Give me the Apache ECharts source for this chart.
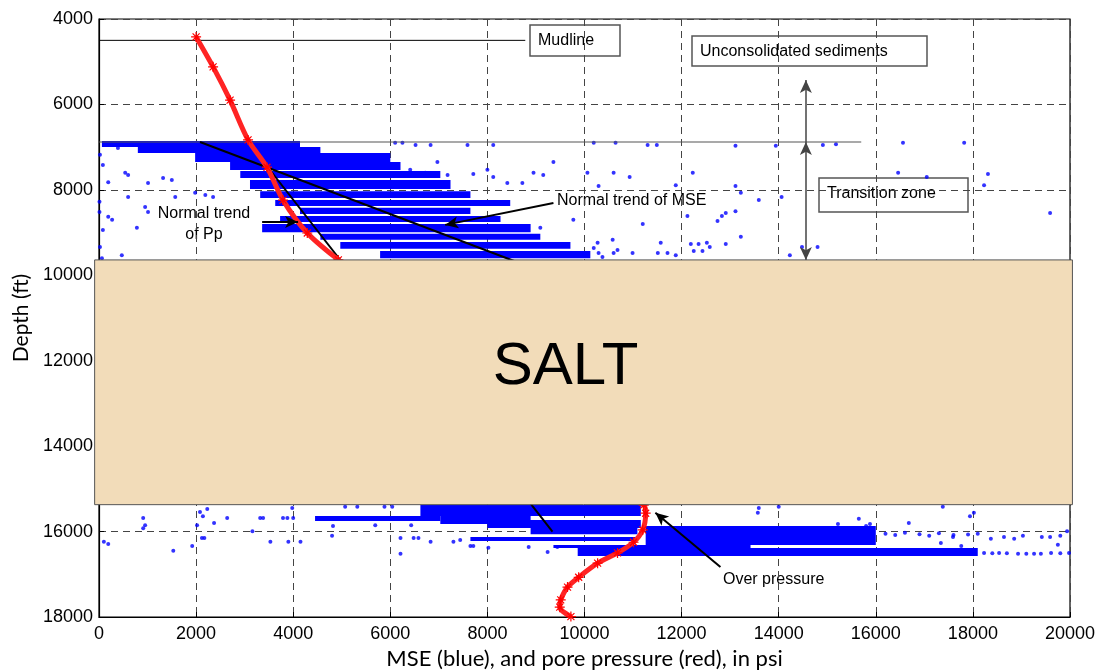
<!DOCTYPE html>
<html>
<head>
<meta charset="utf-8">
<title>MSE vs depth</title>
<script src="https://cdn.jsdelivr.net/npm/echarts@6/dist/echarts.min.js"></script>
<style>
    html, body { margin: 0; padding: 0; background: #fff; }
    #chart { width: 1102px; height: 670px; }
</style>
</head>
<body>
<div id="chart"></div>
<script>
// 坐标轴刻度
const xTicks = [0, 2000, 4000, 6000, 8000, 10000, 12000, 14000, 16000, 18000, 20000];
const depthTicks = [4000, 6000, 8000, 10000, 12000, 14000, 16000, 18000];

// MSE 密集点带: [x起点, x终点, 深度顶, 深度底]
const mseBands = [
    [60, 4140, 6856, 6997],
    [800, 4560, 6997, 7137],
    [1980, 6000, 7137, 7350],
    [2700, 6210, 7350, 7535],
    [2910, 7030, 7560, 7720],
    [3110, 7240, 7770, 7980],
    [3320, 7650, 8030, 8190],
    [3630, 8470, 8240, 8380],
    [4140, 7650, 8420, 8565],
    [3730, 8270, 8610, 8750],
    [3360, 8890, 8800, 8990],
    [4560, 9090, 9030, 9170],
    [4970, 9710, 9220, 9380],
    [5790, 10120, 9430, 9600],
    [4450, 7030, 15635, 15750],
    [6620, 11160, 15380, 15635],
    [7030, 8890, 15635, 15820],
    [8000, 11160, 15730, 15915],
    [8890, 11090, 15915, 16060],
    [7650, 11090, 16125, 16220],
    [11260, 16000, 15870, 16315],
    [9360, 13420, 16315, 16385],
    [9860, 18100, 16385, 16570]
];

// MSE 离散点 [psi, ft]
const mseDots = [
    [20, 7180], [80, 7420], [190, 7820], [10, 8280], [10, 8520], [190, 8630], [270, 8700],
    [80, 8940], [20, 9340], [780, 8890], [600, 8170], [600, 7650], [1010, 7840], [1320, 7720],
    [1500, 7770], [390, 7020], [540, 7600], [950, 8400], [1010, 8520], [1980, 8070], [2190, 8120],
    [2350, 8170], [1570, 8170], [60, 9600], [470, 9530],
    [6100, 6900], [6250, 6900], [6520, 6950], [6830, 6950], [7590, 6950], [8120, 6950],
    [5420, 7350], [5790, 7350], [6970, 7350], [6410, 7530], [6720, 7600], [7180, 7650],
    [7710, 7630], [8000, 7530], [8120, 7700], [8950, 7600], [9150, 7650], [9360, 7350],
    [8410, 7840], [8720, 7840], [9770, 8700], [9090, 8890], [10060, 7600],
    [10190, 6900], [10640, 6900], [11300, 6950], [11490, 6950], [13110, 6970], [13940, 6970],
    [10600, 7600], [10930, 7700], [10290, 7910], [11880, 7890], [12230, 7600], [13110, 7910],
    [13220, 8070], [13590, 8240], [14060, 8170], [12120, 8610], [12740, 8730], [12830, 8610],
    [12910, 8540], [13110, 8500], [11200, 8800], [13220, 9100], [10580, 9170], [11570, 9240],
    [12190, 9270], [12350, 9270], [12520, 9240], [12580, 9340], [12910, 9270], [12250, 9430],
    [12430, 9430], [11880, 9530], [14230, 9530], [14480, 9340], [14800, 9340], [14910, 6950],
    [15180, 6930], [10270, 9240], [10680, 9410], [10990, 9480], [11510, 9480], [11710, 9480],
    [10190, 9360], [10290, 9480], [10370, 9570], [10600, 9480],
    [16560, 6900], [17820, 6900], [16460, 7600], [17050, 7700], [18230, 7890], [18310, 7630],
    [19590, 8540],
    [910, 15680], [950, 15850], [910, 15920], [100, 16240], [190, 16290], [1530, 16450],
    [1920, 16340], [2020, 15850], [2080, 15540], [2140, 15640], [2230, 15470], [2170, 16150],
    [2120, 16150], [2370, 15800], [2640, 15680], [3320, 15680], [3380, 15680], [3790, 15680],
    [3880, 15680], [4000, 15680], [3160, 15990], [3530, 16240], [3900, 16240], [4150, 16240],
    [3980, 15450], [5070, 15420], [5320, 15420], [5880, 15420], [6040, 15420], [4820, 15870],
    [4800, 16100], [5690, 15850], [6210, 16150], [6480, 16150], [6580, 16150], [6210, 16520],
    [6430, 15850], [6830, 16240], [7300, 16240], [7440, 16200], [7650, 16340], [7710, 16340],
    [8020, 16380], [8850, 16360], [9240, 16480], [9440, 16360],
    [13570, 15560], [13590, 15450], [14000, 15420], [15220, 15820], [15650, 15700],
    [15800, 15870], [15880, 15820], [16680, 15800], [17380, 15420], [17940, 15640],
    [18020, 15560], [18370, 16170], [18640, 16130], [18850, 16170], [19030, 16100],
    [19420, 16130], [19590, 16130], [19750, 16310], [19800, 16100], [19940, 15990],
    [17590, 16130], [17760, 16340], [17340, 16270], [18230, 16500], [18540, 16500],
    [18930, 16520], [19260, 16520], [19610, 16500], [19980, 16500], [18400, 16510],
    [18700, 16510], [19100, 16520], [19400, 16520], [19800, 16510],
    [16200, 16050], [16400, 16080], [16600, 16030], [16900, 16060], [17100, 16100],
    [17300, 16040], [17600, 16080], [17900, 16070], [18100, 16050]
];

// 孔隙压力曲线 [psi, ft]
const poreCurve = [
    [2000, 4420], [2350, 5120], [2700, 5900], [3070, 6830], [3460, 7470], [3790, 8240],
    [4290, 9010], [4930, 9640], [11220, 15380], [11260, 15570], [11200, 15960], [11010, 16250],
    [10680, 16500], [10270, 16740], [9880, 17070], [9650, 17300], [9510, 17600], [9490, 17770],
    [9720, 17990]
];

// 参考线
const mudline = [[0, 4500], [8780, 4500]];
const sedimentBase = [[0, 6880], [15700, 6880]];
const mseTrend = [[2080, 6880], [9000, 9860]];
const ppTrend = [[3280, 7184], [9340, 16000]];
// 盐层范围 [x左, 深度顶, x右, 深度底]
const saltZone = [[-90, 9640, 20050, 15370]];

let chart = echarts.init(document.getElementById('chart'));

const FONT = 'Liberation Sans, Arial, sans-serif';

function refLine(name, data, color, width) {
    return {
        name: name,
        type: 'line',
        data: data,
        symbol: 'none',
        lineStyle: { color: color, width: width },
        z: 3,
        silent: true
    };
}

function arrow(from, to, both) {
    return [
        { coord: from, symbol: both ? 'arrow' : 'none' },
        { coord: to }
    ];
}

function plainNumber(v) {
    return String(v);
}

let option = {
    animation: false,
    backgroundColor: '#fff',
    grid: {
        left: 99, right: 32, top: 19, bottom: 53,
        outerBoundsMode: 'none',
        containLabel: false,
        show: true, borderColor: '#000', borderWidth: 1.2, backgroundColor: 'transparent'
    },
    xAxis: {
        type: 'value', min: xTicks[0], max: xTicks[xTicks.length - 1], interval: 2000,
        name: 'MSE (blue), and pore pressure (red), in psi',
        nameLocation: 'middle', nameGap: 30,
        nameTextStyle: { fontFamily: 'Lato, Open Sans, sans-serif', fontSize: 22, color: '#000' },
        axisLine: { lineStyle: { color: '#000', width: 1.2 } },
        axisTick: { inside: true, length: 5, lineStyle: { color: '#000' } },
        axisLabel: { fontFamily: FONT, fontSize: 18, color: '#000', margin: 8, formatter: plainNumber },
        splitLine: { lineStyle: { color: '#444', type: [7, 5], width: 1 } }
    },
    yAxis: {
        type: 'value', inverse: true, min: depthTicks[0], max: depthTicks[depthTicks.length - 1], interval: 2000,
        name: 'Depth (ft)',
        nameLocation: 'middle', nameGap: 62,
        nameTextStyle: { fontFamily: 'Lato, Open Sans, sans-serif', fontSize: 21, color: '#000' },
        axisLine: { lineStyle: { color: '#000', width: 1.2 } },
        axisTick: { inside: true, length: 5, lineStyle: { color: '#000' } },
        axisLabel: { fontFamily: FONT, fontSize: 18, color: '#000', margin: 6, formatter: plainNumber },
        splitLine: { lineStyle: { color: '#444', type: [7, 5], width: 1 } }
    },
    series: [
        {
            name: 'MSE bands',
            type: 'custom',
            data: mseBands,
            z: 2,
            silent: true,
            renderItem: function (params, api) {
                const p0 = api.coord([api.value(0), api.value(2)]);
                const p1 = api.coord([api.value(1), api.value(3)]);
                return {
                    type: 'rect',
                    shape: { x: p0[0], y: p0[1], width: p1[0] - p0[0], height: p1[1] - p0[1] },
                    style: { fill: '#0000ff' }
                };
            }
        },
        {
            name: 'MSE',
            type: 'scatter',
            data: mseDots,
            symbolSize: 4,
            itemStyle: { color: '#0000ff' },
            z: 2,
            silent: true
        },
        refLine('mudline', mudline, '#000', 1),
        refLine('sediment base', sedimentBase, '#555', 1.2),
        refLine('MSE trend', mseTrend, '#000', 2),
        refLine('Pp trend', ppTrend, '#000', 2),
        {
            name: 'pore pressure',
            type: 'line',
            data: poreCurve,
            smooth: 0.3,
            symbol: 'path://M0,-10L0,10M-10,0L10,0M-7,-7L7,7M-7,7L7,-7',
            symbolSize: 10,
            itemStyle: { color: '#ff0000', borderColor: '#ff0000', borderWidth: 1.2 },
            lineStyle: { color: '#ff2424', width: 5 },
            z: 4,
            silent: true
        },
        {
            name: 'arrows',
            type: 'line',
            data: [],
            z: 5,
            silent: true,
            markLine: {
                silent: true,
                symbol: ['none', 'arrow'],
                symbolSize: [9, 13],
                label: { show: false },
                lineStyle: { color: '#000', width: 2, type: 'solid' },
                data: [
                    arrow([9360, 8310], [7130, 8820]),
                    arrow([3360, 8750], [4100, 8750]),
                    arrow([12800, 16830], [11460, 15560])
                ]
            }
        },
        {
            name: 'zone arrows',
            type: 'line',
            data: [],
            z: 5,
            silent: true,
            markLine: {
                silent: true,
                symbol: ['none', 'arrow'],
                symbolSize: [9, 13],
                label: { show: false },
                lineStyle: { color: '#444', width: 1.5, type: 'solid' },
                data: [
                    arrow([14560, 6880], [14560, 5430]),
                    arrow([14560, 6880], [14560, 9640], true)
                ]
            }
        },
        {
            name: 'salt',
            type: 'custom',
            data: saltZone,
            clip: false,
            z: 20,
            silent: true,
            renderItem: function (params, api) {
                const p0 = api.coord([api.value(0), api.value(1)]);
                const p1 = api.coord([api.value(2), api.value(3)]);
                return {
                    type: 'group',
                    children: [
                        {
                            type: 'rect',
                            shape: { x: p0[0], y: p0[1], width: p1[0] - p0[0], height: p1[1] - p0[1] },
                            style: { fill: '#f2dcb9', stroke: '#555', lineWidth: 1 }
                        },
                        {
                            type: 'text',
                            x: (p0[0] + p1[0]) / 2 - 18,
                            y: (p0[1] + p1[1]) / 2 - 15,
                            style: {
                                text: 'SALT', font: '60px ' + FONT, fill: '#000',
                                align: 'center', verticalAlign: 'middle'
                            }
                        }
                    ]
                };
            }
        }
    ],
    graphic: [
        {
            type: 'group', z: 100,
            children: [
                { type: 'rect', shape: { x: 530, y: 25, width: 90, height: 31 }, style: { fill: '#fff', stroke: '#555', lineWidth: 1.5 } },
                { type: 'text', x: 538, y: 41, style: { text: 'Mudline', font: '16px ' + FONT, fill: '#000', verticalAlign: 'middle' } },
                { type: 'rect', shape: { x: 692, y: 36, width: 235, height: 30 }, style: { fill: '#fff', stroke: '#555', lineWidth: 1.5 } },
                { type: 'text', x: 700, y: 52, style: { text: 'Unconsolidated sediments', font: '16px ' + FONT, fill: '#000', verticalAlign: 'middle' } },
                { type: 'rect', shape: { x: 819, y: 178, width: 149, height: 34 }, style: { fill: '#fff', stroke: '#555', lineWidth: 1.5 } },
                { type: 'text', x: 827, y: 194, style: { text: 'Transition zone', font: '16px ' + FONT, fill: '#000', verticalAlign: 'middle' } },
                { type: 'text', x: 557, y: 201, style: { text: 'Normal trend of MSE', font: '16px ' + FONT, fill: '#000', verticalAlign: 'middle' } },
                { type: 'text', x: 204, y: 214, style: { text: 'Normal trend', font: '16px ' + FONT, fill: '#000', align: 'center', verticalAlign: 'middle' } },
                { type: 'text', x: 204, y: 235, style: { text: 'of Pp', font: '16px ' + FONT, fill: '#000', align: 'center', verticalAlign: 'middle' } },
                { type: 'text', x: 723, y: 580, style: { text: 'Over pressure', font: '16px ' + FONT, fill: '#000', verticalAlign: 'middle' } }
            ]
        }
    ]
};

chart.setOption(option);
</script>
</body>
</html>
